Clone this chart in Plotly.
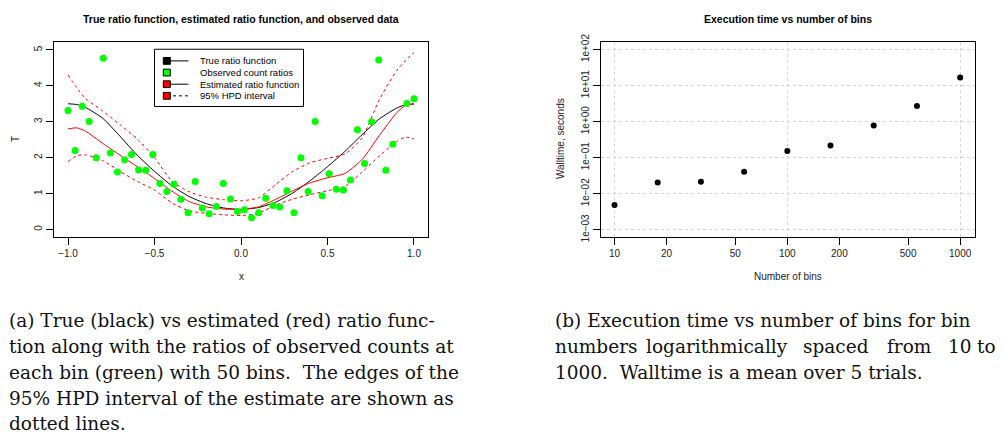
import plotly.graph_objects as go

W, H = 1004, 443

# ---------------- data: left panel ----------------
bin_x = [-1.000, -0.959, -0.918, -0.878, -0.837, -0.796, -0.755, -0.714, -0.673, -0.633,
         -0.592, -0.551, -0.510, -0.469, -0.429, -0.388, -0.347, -0.306, -0.265, -0.224,
         -0.184, -0.143, -0.102, -0.061, -0.020, 0.020, 0.061, 0.102, 0.143, 0.184,
         0.224, 0.265, 0.306, 0.347, 0.388, 0.429, 0.469, 0.510, 0.551, 0.592,
         0.633, 0.673, 0.714, 0.755, 0.796, 0.837, 0.878, 0.918, 0.959, 1.000]
obs_ratio = [3.31, 2.20, 3.43, 3.01, 2.00, 4.77, 2.13, 1.60, 1.94, 2.09,
             1.66, 1.65, 2.09, 1.28, 1.06, 1.26, 0.84, 0.47, 1.34, 0.60,
             0.44, 0.64, 1.28, 0.85, 0.50, 0.55, 0.33, 0.47, 0.87, 0.67,
             0.63, 1.08, 0.47, 2.00, 1.06, 3.01, 0.94, 1.55, 1.12, 1.10,
             1.38, 2.78, 1.84, 3.00, 4.72, 1.65, 2.37, None, 3.51, 3.64]

curve_x = [-1.0, -0.95, -0.9, -0.8, -0.7, -0.6, -0.5, -0.4, -0.3, -0.2, -0.1, 0.0,
           0.1, 0.2, 0.3, 0.4, 0.5, 0.6, 0.7, 0.8, 0.9, 0.95, 1.0]
true_ratio = [3.50, 3.48, 3.40, 3.10, 2.60, 2.07, 1.62, 1.22, 0.92, 0.72, 0.60, 0.56,
              0.61, 0.76, 1.02, 1.36, 1.75, 2.17, 2.64, 3.08, 3.38, 3.47, 3.50]
est_ratio = [2.80, 2.83, 2.74, 2.40, 2.07, 1.75, 1.42, 1.07, 0.78, 0.63, 0.57, 0.56,
             0.63, 0.84, 1.08, 1.30, 1.44, 1.56, 1.95, 2.62, 3.25, 3.45, 3.49]
hpd_upper = [4.30, 3.95, 3.65, 3.30, 2.92, 2.52, 2.00, 1.35, 1.05, 0.90, 0.83, 0.80,
             0.88, 1.25, 1.62, 1.86, 1.98, 2.10, 2.55, 3.62, 4.42, 4.70, 4.93]
hpd_lower = [1.89, 2.05, 2.08, 1.92, 1.62, 1.34, 1.10, 0.74, 0.52, 0.45, 0.41, 0.39,
             0.45, 0.68, 0.85, 0.97, 1.08, 1.20, 1.60, 2.05, 2.45, 2.57, 2.52]

x_ticks = [-1.0, -0.5, 0.0, 0.5, 1.0]
x_ticklabels = ["\u22121.0", "\u22120.5", "0.0", "0.5", "1.0"]
y_ticks = [0, 1, 2, 3, 4, 5]

legend_labels = ["True ratio function", "Observed count ratios",
                 "Estimated ratio function", "95% HPD interval"]
legend_fill = ["black", "#00FF00", "#FF0000", "#FF0000"]
legend_line = ["solid", None, "solid", "dash"]

# ---------------- data: right panel ----------------
n_bins = [10, 17.78, 31.62, 56.23, 100, 177.8, 316.2, 562.3, 1000]
walltime = [0.0049, 0.0207, 0.0217, 0.041, 0.154, 0.218, 0.78, 2.74, 16.9]
bx_ticks = [10, 20, 50, 100, 200, 500, 1000]
by_ticks = [1e-3, 1e-2, 1e-1, 1e0, 1e1, 1e2]
by_ticklabels = ["1e\u221203", "1e\u221202", "1e\u221201", "1e+00", "1e+01", "1e+02"]
bx_grid = [10, 100, 1000]

captions_a = ["(a) True (black) vs estimated (red) ratio func-",
              "tion along with the ratios of observed counts at",
              "each bin (green) with 50 bins.  The edges of the",
              "95% HPD interval of the estimate are shown as",
              "dotted lines."]
caption_b1 = "(b) Execution time vs number of bins for bin"
caption_b2 = ["numbers", "logarithmically", "spaced", "from", "10", "to"]
caption_b3 = "1000.  Walltime is a mean over 5 trials."


def px(x):
    return x / W


def py(y):
    return 1 - y / H


SANS = "Liberation Sans, Arial, sans-serif"
SERIF = "DejaVu Serif, serif"
CAP_SIZE = 18.5

fig = go.Figure()

spl = dict(shape="spline", smoothing=0.6)
fig.add_trace(go.Scatter(x=curve_x, y=hpd_upper, mode="lines", xaxis="x", yaxis="y",
                         line=dict(color="#FF0000", width=1, dash="3px,3px", **spl), showlegend=False))
fig.add_trace(go.Scatter(x=curve_x, y=hpd_lower, mode="lines", xaxis="x", yaxis="y",
                         line=dict(color="#FF0000", width=1, dash="3px,3px", **spl), showlegend=False))
fig.add_trace(go.Scatter(x=curve_x, y=true_ratio, mode="lines", xaxis="x", yaxis="y",
                         line=dict(color="black", width=1, **spl), showlegend=False))
fig.add_trace(go.Scatter(x=curve_x, y=est_ratio, mode="lines", xaxis="x", yaxis="y",
                         line=dict(color="#FF0000", width=1, **spl), showlegend=False))
fig.add_trace(go.Scatter(x=bin_x, y=obs_ratio, mode="markers", xaxis="x", yaxis="y",
                         marker=dict(color="#00FF00", size=7), showlegend=False))

fig.add_trace(go.Scatter(x=n_bins, y=walltime, mode="markers", xaxis="x2", yaxis="y2",
                         marker=dict(color="black", size=6), showlegend=False))
fig.add_trace(go.Scatter(x=[bx_grid[0]], y=[walltime[0]], mode="markers", xaxis="x3", yaxis="y2",
                         marker=dict(opacity=0), showlegend=False, hoverinfo="skip"))

left_dom = [px(54), px(428)]
right_dom = [px(600.5), px(974.5)]
ydom = [py(236), py(35)]

axis_common = dict(showline=True, linecolor="black", linewidth=1, mirror=True,
                   ticks="outside", ticklen=7, tickwidth=1, tickcolor="black",
                   tickfont=dict(family=SANS, size=10, color="#222"), zeroline=False)

fig.update_layout(
    width=W, height=H, margin=dict(l=0, r=0, t=0, b=0),
    paper_bgcolor="white", plot_bgcolor="white",
    xaxis=dict(domain=left_dom, range=[-1.081, 1.081], tickvals=x_ticks, ticktext=x_ticklabels,
               showgrid=False, anchor="y", **axis_common),
    yaxis=dict(domain=ydom, range=[-0.21, 5.22], tickvals=y_ticks, showgrid=False, anchor="x",
               tickangle=-90, **axis_common),
    xaxis2=dict(domain=right_dom, type="log", range=[0.919, 3.083], tickvals=bx_ticks,
                ticktext=[str(v) for v in bx_ticks], showgrid=False, anchor="y2", **axis_common),
    yaxis2=dict(domain=ydom, type="log", range=[-3.2, 2.21], tickvals=by_ticks, ticktext=by_ticklabels,
                showgrid=True, gridcolor="#d3d3d3", griddash="dot", gridwidth=1,
                anchor="x2", tickangle=-90, **axis_common),
    xaxis3=dict(overlaying="x2", type="log", range=[0.919, 3.083], tickvals=bx_grid,
                showgrid=True, gridcolor="#d3d3d3", griddash="dot", gridwidth=1,
                showticklabels=False, ticks="", showline=False, zeroline=False, anchor="y2"),
)

ann = []
ann.append(dict(text="<b>True ratio function, estimated ratio function, and observed data</b>",
                x=px(241), y=py(11), font=dict(family=SANS, size=10.5, color="black")))
ann.append(dict(text="<b>Execution time vs number of bins</b>",
                x=px(787.5), y=py(11), font=dict(family=SANS, size=10.5, color="black")))
ann.append(dict(text="x", x=px(241), y=py(277), font=dict(family=SANS, size=10, color="#222")))
ann.append(dict(text="T", x=px(15), y=py(135), textangle=-90, font=dict(family=SANS, size=10, color="#222")))
ann.append(dict(text="Number of bins", x=px(787.5), y=py(277), font=dict(family=SANS, size=10, color="#222")))
ann.append(dict(text="Walltime, seconds", x=px(560), y=py(135), textangle=-90,
                font=dict(family=SANS, size=10, color="#222")))

shapes = []
shapes.append(dict(type="rect", xref="paper", yref="paper", x0=px(154.5), x1=px(303.5),
                   y0=py(101.5), y1=py(42.5), line=dict(color="black", width=1), fillcolor="white",
                   layer="above"))
row_y = [54.5, 66.5, 78.5, 90.5]
for i, lab in enumerate(legend_labels):
    yy = row_y[i]
    if legend_line[i] is not None:
        shapes.append(dict(type="line", xref="paper", yref="paper", x0=px(167), x1=px(188.5),
                           y0=py(yy), y1=py(yy), layer="above",
                           line=dict(color="black", width=1,
                                     dash="solid" if legend_line[i] == "solid" else "3px,3px")))
    shapes.append(dict(type="rect", xref="paper", yref="paper", x0=px(163.3), x1=px(170.3),
                       y0=py(yy + 3.5), y1=py(yy - 3.5), fillcolor=legend_fill[i],
                       line=dict(color="black", width=1), layer="above"))
    ann.append(dict(text=lab, x=px(197.5), y=py(yy), xanchor="left",
                    font=dict(family=SANS, size=9.5, color="black")))

cap_y = [321.7, 348.4, 375.1, 401.8, 428.5]
for i, line in enumerate(captions_a):
    ann.append(dict(text=line, x=px(6.5), y=py(cap_y[i]), xanchor="left",
                    font=dict(family=SERIF, size=CAP_SIZE, color="#111")))
ann.append(dict(text=caption_b1, x=px(552.5), y=py(cap_y[0]), xanchor="left",
                font=dict(family=SERIF, size=CAP_SIZE, color="#111")))
b2_pos = [(552.5, "left"), (716.7, "center"), (835.8, "center"), (909.5, "center"), (960, "center"), (998, "right")]
for w, (xx, anc) in zip(caption_b2, b2_pos):
    ann.append(dict(text=w, x=px(xx), y=py(cap_y[1]), xanchor=anc,
                    font=dict(family=SERIF, size=CAP_SIZE, color="#111")))
ann.append(dict(text=caption_b3, x=px(552.5), y=py(cap_y[2]), xanchor="left",
                font=dict(family=SERIF, size=CAP_SIZE, color="#111")))

for a in ann:
    a.setdefault("xref", "paper")
    a.setdefault("yref", "paper")
    a.setdefault("showarrow", False)
    a.setdefault("xanchor", "center")
    a.setdefault("yanchor", "middle")

fig.update_layout(annotations=ann, shapes=shapes)
fig.write_html("out.html")
